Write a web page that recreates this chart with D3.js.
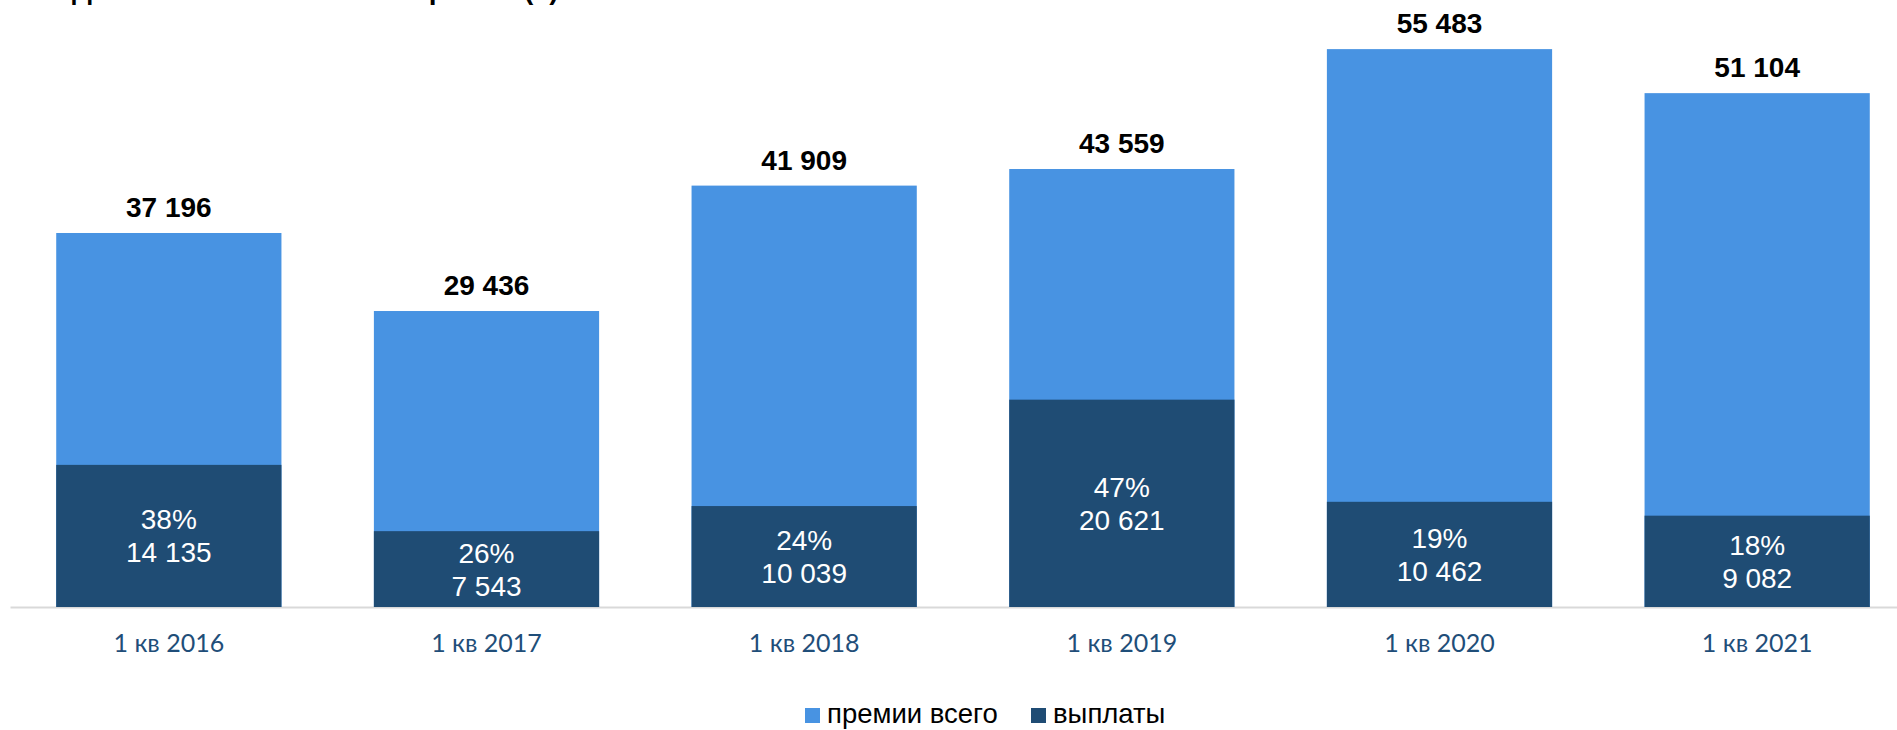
<!DOCTYPE html>
<html>
<head>
<meta charset="utf-8">
<script src="https://cdn.jsdelivr.net/npm/d3@7"></script>
<style>
  html, body { margin: 0; padding: 0; background: #ffffff; overflow: hidden; }
  svg { display: block; }
</style>
</head>
<body>
<div id="chart"></div>
<script>
// ---- data ----
const categories = ["1 кв 2016", "1 кв 2017", "1 кв 2018", "1 кв 2019", "1 кв 2020", "1 кв 2021"];
const premiums = [37196, 29436, 41909, 43559, 55483, 51104];
const payouts = [14135, 7543, 10039, 20621, 10462, 9082];
const seriesNames = ["премии всего", "выплаты"];
const titleText = "Динамика начисленных премий (₽)";

// ---- layout ----
const W = 1897, H = 730;
const colors = { prem: "#4893E2", pay: "#1F4C74", cat: "#1F4E79", axis: "#D9D9D9" };

const svg = d3.select("#chart").append("svg").attr("width", W).attr("height", H);

const fmt = d3.formatLocale({ decimal: ",", thousands: " ", grouping: [3], currency: ["", ""] }).format(",d");

const x = d3.scaleBand().domain(categories).range([10, 1916]).paddingInner(0.291).paddingOuter(0.1455);
const y = d3.scaleLinear().domain([0, 60000]).range([607, 3.7]);

const data = categories.map((c, i) => ({ cat: c, prem: premiums[i], pay: payouts[i] }));

// title (clipped at top, as in the reference)
svg.append("text")
  .attr("x", 72).attr("y", -1)
  .attr("font-family", "Liberation Sans, Arial, sans-serif")
  .attr("font-weight", "bold").attr("font-size", 28)
  .attr("fill", "#000").text(titleText);

// axis
const axis = svg.append("g").attr("transform", `translate(0,${y(0)})`)
  .call(d3.axisBottom(x).tickSize(0).tickSizeOuter(0).tickPadding(27));
axis.select(".domain").attr("stroke", colors.axis).attr("stroke-width", 2);
axis.selectAll("text")
  .attr("font-family", "Lato, Carlito, sans-serif")
  .attr("font-size", 25).attr("fill", colors.cat);

// premium bars
svg.append("g").selectAll("rect").data(data).join("rect")
  .attr("x", d => x(d.cat)).attr("width", x.bandwidth())
  .attr("y", d => y(d.prem)).attr("height", d => y(0) - y(d.prem))
  .attr("fill", colors.prem);

// payouts bars
svg.append("g").selectAll("rect").data(data).join("rect")
  .attr("x", d => x(d.cat)).attr("width", x.bandwidth())
  .attr("y", d => y(d.pay)).attr("height", d => y(0) - y(d.pay))
  .attr("fill", colors.pay);

// total labels
svg.append("g").selectAll("text").data(data).join("text")
  .attr("x", d => x(d.cat) + x.bandwidth() / 2)
  .attr("y", d => y(d.prem) - 16)
  .attr("text-anchor", "middle")
  .attr("font-family", "Liberation Sans, Arial, sans-serif")
  .attr("font-weight", "bold").attr("font-size", 28).attr("fill", "#000")
  .text(d => fmt(d.prem));

// inside labels
const inner = svg.append("g").selectAll("text").data(data).join("text")
  .attr("text-anchor", "middle")
  .attr("font-family", "Liberation Sans, Arial, sans-serif")
  .attr("font-size", 28).attr("fill", "#fff");
inner.each(function(d) {
  const cx = x(d.cat) + x.bandwidth() / 2;
  const mid = (y(d.pay) + y(0)) / 2;
  const t = d3.select(this);
  t.append("tspan").attr("x", cx).attr("y", mid - 6.5).text(Math.round(d.pay / d.prem * 100) + "%");
  t.append("tspan").attr("x", cx).attr("y", mid + 26.5).text(fmt(d.pay));
});

// legend
const legend = svg.append("g");
const legendItems = [
  { name: seriesNames[0], color: colors.prem, x: 805 },
  { name: seriesNames[1], color: colors.pay, x: 1031 }
];
legendItems.forEach(it => {
  legend.append("rect").attr("x", it.x).attr("y", 708).attr("width", 15).attr("height", 15).attr("fill", it.color);
  legend.append("text").attr("x", it.x + 22).attr("y", 723)
    .attr("font-family", "Liberation Sans, Arial, sans-serif")
    .attr("font-size", 27.5).attr("fill", "#000").text(it.name);
});
</script>
</body>
</html>
